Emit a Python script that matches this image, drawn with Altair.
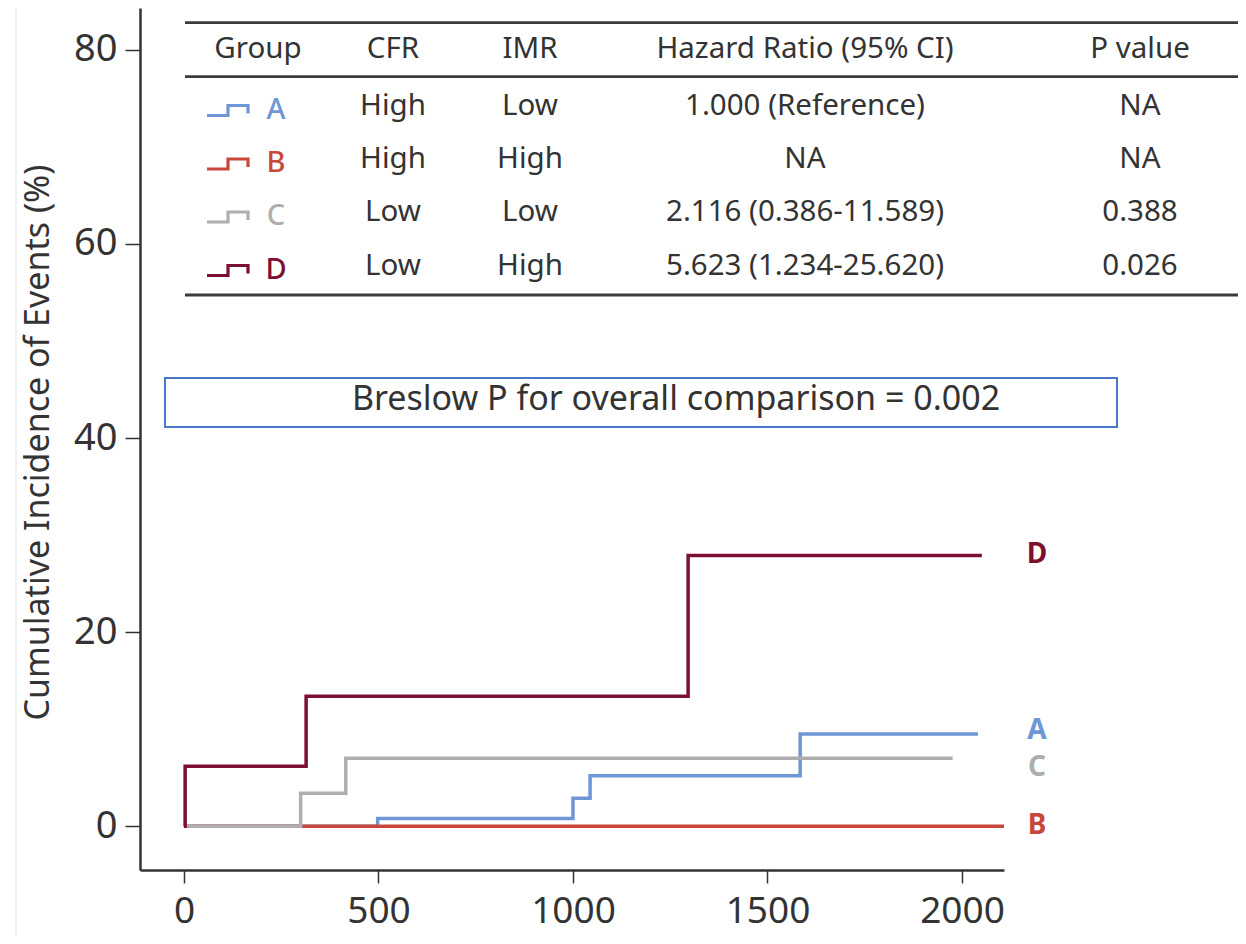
import altair as alt
import pandas as pd

# ---------------- data ----------------
groups = ["A", "B", "C", "D"]
colors = ["#6F97D5", "#C8473A", "#AEAEAE", "#7D0F30"]

a_time = [0, 498, 1000, 1044, 1584, 2041]
a_pct = [0, 0.8, 2.9, 5.2, 9.5, 9.5]
b_time = [0, 2108]
b_pct = [0, 0]
c_time = [0, 300, 416, 1976]
c_pct = [0, 3.4, 7.0, 7.0]
d_time = [0, 3, 314, 1296, 2051]
d_pct = [0, 6.2, 13.4, 27.9, 27.9]

table_header = ["Group", "CFR", "IMR", "Hazard Ratio (95% CI)", "P value"]
cfr = ["High", "High", "Low", "Low"]
imr = ["Low", "High", "Low", "High"]
hazard = ["1.000 (Reference)", "NA", "2.116 (0.386-11.589)", "5.623 (1.234-25.620)"]
pvalue = ["NA", "NA", "0.388", "0.026"]

breslow_text = "Breslow P for overall comparison = 0.002"
y_title = "Cumulative Incidence of Events (%)"
y_ticks = [0, 20, 40, 60, 80]
x_ticks = [0, 500, 1000, 1500, 2000]

# ---------------- layout (pixels, relative to plot area) ----------------
W, H = 864, 862
FONT = "Noto Sans"
TXT = "#333333"
col_x = [118, 253, 390, 665, 1000]
header_y = 41
row_y = [97.5, 151, 204, 257.5]
rule_y = [14.7, 68.7, 287]
rule_x0, rule_x1 = 45, 1110
icon_dx = [67, 88, 88, 108, 108]
icon_dy = [10, 10, 0, 0, 8]
letter_x = 136
end_label_x = 897
label_offset = [0.3, 0, -0.95, 0]

# ---------------- tables ----------------
series = {"A": (a_time, a_pct), "B": (b_time, b_pct), "C": (c_time, c_pct), "D": (d_time, d_pct)}
rows = []
for g in groups:
    t, p = series[g]
    for i, (ti, pi) in enumerate(zip(t, p)):
        rows.append({"group": g, "time": ti, "pct": pi, "k": i})
curves = pd.DataFrame(rows)

color_scale = alt.Scale(domain=groups, range=colors)

cells = []
for j, h in enumerate(table_header):
    cells.append({"x": col_x[j], "y": header_y, "text": h})
for i in range(4):
    for j, v in enumerate([cfr[i], imr[i], hazard[i], pvalue[i]]):
        cells.append({"x": col_x[j + 1], "y": row_y[i], "text": v})
cells = pd.DataFrame(cells)

icons = []
for i, g in enumerate(groups):
    for k in range(len(icon_dx)):
        icons.append({"group": g, "k": k, "x": icon_dx[k], "y": row_y[i] + icon_dy[k]})
icons = pd.DataFrame(icons)

letters = pd.DataFrame({"group": groups, "x": [letter_x] * 4, "y": row_y})

end_labels = pd.DataFrame({
    "group": groups,
    "pct": [series[g][1][-1] + label_offset[i] for i, g in enumerate(groups)],
})

hrules = pd.DataFrame({"y": rule_y, "x0": [rule_x0] * 3, "x1": [rule_x1] * 3})
one = pd.DataFrame({"v": [0]})

# ---------------- chart ----------------
x_enc = alt.X("time:Q", scale=alt.Scale(domain=[-113, 2108], nice=False, zero=False),
              axis=alt.Axis(values=x_ticks, format="d", title=None, grid=False, tickSize=13,
                            tickWidth=1.5, tickColor=TXT, domainColor=TXT, domainWidth=2.5,
                            labelFont=FONT, labelFontSize=37, labelColor=TXT, labelPadding=10,
                            labelFlush=False))
y_enc = alt.Y("pct:Q", scale=alt.Scale(domain=[-4.5, 84.3], nice=False, zero=False),
              axis=alt.Axis(values=y_ticks, grid=False, tickSize=15, tickWidth=1.5,
                            tickColor=TXT, domainColor=TXT, domainWidth=2.5,
                            labelFont=FONT, labelFontSize=38, labelColor=TXT, labelPadding=8,
                            labelFlush=False,
                            title=y_title, titleFont=FONT, titleFontSize=34, titleColor=TXT,
                            titleFontWeight="normal", titleAngle=-90, titleX=-102, titleY=434,
                            titleAlign="center", titleBaseline="middle"))

lines = alt.Chart(curves).mark_line(interpolate="step-after", strokeWidth=3.5).encode(
    x=x_enc, y=y_enc,
    color=alt.Color("group:N", scale=color_scale, legend=None),
    order="k:Q",
)

ends = alt.Chart(end_labels).mark_text(font=FONT, fontSize=28, fontWeight="bold",
                                       align="center", baseline="middle").encode(
    x=alt.value(end_label_x),
    y=alt.Y("pct:Q"),
    text="group:N",
    color=alt.Color("group:N", scale=color_scale, legend=None),
)

table_rules = alt.Chart(hrules).mark_rule(color="#3a3a3a", strokeWidth=2.8).encode(
    x=alt.X("x0:Q", scale=None, axis=None), x2="x1:Q",
    y=alt.Y("y:Q", scale=None, axis=None),
)

table_text = alt.Chart(cells).mark_text(font=FONT, fontSize=29.5, color=TXT,
                                        align="center", baseline="middle").encode(
    x=alt.X("x:Q", scale=None, axis=None),
    y=alt.Y("y:Q", scale=None, axis=None),
    text="text:N",
)

icon_lines = alt.Chart(icons).mark_line(strokeWidth=3.2).encode(
    x=alt.X("x:Q", scale=None, axis=None),
    y=alt.Y("y:Q", scale=None, axis=None),
    color=alt.Color("group:N", scale=color_scale, legend=None),
    detail="group:N",
    order="k:Q",
)

letter_text = alt.Chart(letters).mark_text(font=FONT, fontSize=29, fontWeight=500, align="center",
                                           baseline="middle", dy=4).encode(
    x=alt.X("x:Q", scale=None, axis=None),
    y=alt.Y("y:Q", scale=None, axis=None),
    text="group:N",
    color=alt.Color("group:N", scale=color_scale, legend=None),
)

box = alt.Chart(one).mark_rect(fill="white", fillOpacity=0, stroke="#4A78C8", strokeWidth=2).encode(
    x=alt.value(25), x2=alt.value(977), y=alt.value(370), y2=alt.value(419),
)
box_text = alt.Chart(one).mark_text(font=FONT, fontSize=34, color=TXT, align="center",
                                    baseline="middle", text=breslow_text).encode(
    x=alt.value(536), y=alt.value(392),
)

frame_top = alt.Chart(one).mark_rule(color="#eeeeee", strokeWidth=1.5).encode(
    x=alt.value(-124), x2=alt.value(1110), y=alt.value(-1.5))
frame_left = alt.Chart(one).mark_rule(color="#eeeeee", strokeWidth=1.5).encode(
    x=alt.value(-124), y=alt.value(-1.5), y2=alt.value(930))

chart = alt.layer(
    frame_top, frame_left, lines, ends, table_rules, table_text, icon_lines, letter_text, box, box_text
).properties(
    width=W, height=H,
    autosize=alt.AutoSizeParams(type="none"),
    padding={"left": 132, "top": 0, "right": 234, "bottom": 66},
    background="white",
).configure_view(stroke=None)

chart.save("out.html", embed_options={"renderer": "svg", "actions": False})
